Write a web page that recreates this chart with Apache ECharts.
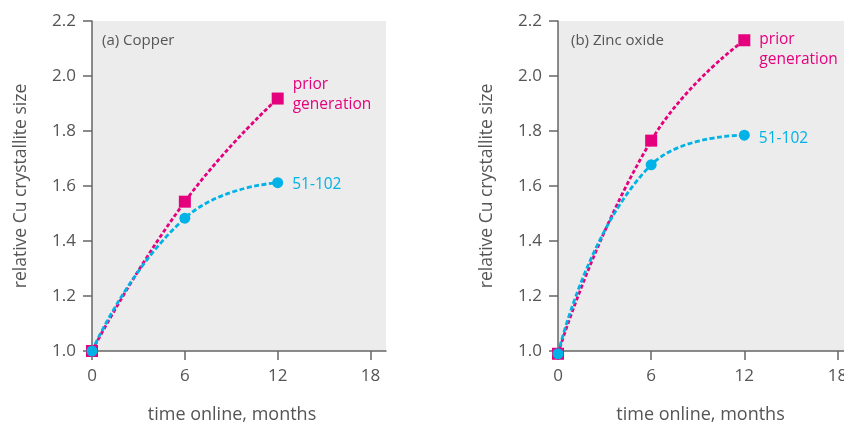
<!DOCTYPE html>
<html>
<head>
<meta charset="utf-8">
<script src="https://cdn.jsdelivr.net/npm/echarts@6/dist/echarts.min.js"></script>
<style>html,body{margin:0;padding:0;background:#fff}#c{width:844px;height:424px}</style>
</head>
<body>
<div id="c"></div>
<script>
// ---- data ----
var months = [0, 6, 12];
var copperPrior = [1.0, 1.543, 1.918];
var copper51102 = [1.0, 1.483, 1.612];
var zincPrior = [0.99, 1.765, 2.13];
var zinc51102 = [0.99, 1.677, 1.785];
var xTicks = [0, 6, 12, 18];
var yTicks = [1.0, 1.2, 1.4, 1.6, 1.8, 2.0, 2.2];
var panelTitles = ['(a) Copper', '(b) Zinc oxide'];
var seriesNames = ['prior\ngeneration', '51-102'];
var yName = 'relative Cu crystallite size';
var xName = 'time online, months';

var PINK = '#e5007d', CYAN = '#00b2e6', AX = '#666', TXT = '#555';
var FONT = 'Open Sans';

function pairs(xs, ys) { return xs.map(function (x, i) { return [x, ys[i]]; }); }

function mkX(idx, max) {
  return {
    type: 'value', gridIndex: idx, min: 0, max: max,
    axisLine: { lineStyle: { color: AX, width: 1.5 } },
    axisTick: { show: true, length: 9, customValues: xTicks, lineStyle: { color: AX, width: 1.5 } },
    axisLabel: { customValues: xTicks, color: TXT, fontSize: 17, fontFamily: FONT, margin: 17 },
    splitLine: { show: false },
    name: xName, nameLocation: 'middle', nameGap: 55,
    nameTextStyle: { color: TXT, fontSize: 18, fontFamily: FONT, padding: [0, idx === 0 ? 14 : 10, 0, 0] }
  };
}
function mkY(idx) {
  return {
    type: 'value', gridIndex: idx, min: 1.0, max: 2.2,
    axisLine: { show: true, lineStyle: { color: AX, width: 1.5 } },
    axisTick: { show: true, length: 9, customValues: yTicks, lineStyle: { color: AX, width: 1.5 } },
    axisLabel: { customValues: yTicks, color: TXT, fontSize: 17, fontFamily: FONT, margin: 16,
      formatter: function (v) { return v.toFixed(1); } },
    splitLine: { show: false },
    name: yName, nameLocation: 'middle', nameGap: 62,
    nameTextStyle: { color: TXT, fontSize: 17.5, fontFamily: FONT }
  };
}
function mkSeries(idx, ys, color, symbol, size, label, dy, dist, dash) {
  var data = pairs(months, ys).map(function (p, i) {
    var item = { value: p };
    if (i === ys.length - 1) {
      item.label = { show: true, position: 'right', distance: dist, formatter: label,
        color: color, fontSize: 15.5, fontFamily: FONT, lineHeight: 20, align: 'left', offset: [0, dy] };
    }
    return item;
  });
  return {
    type: 'line', xAxisIndex: idx, yAxisIndex: idx, smooth: true, clip: false,
    symbol: symbol, symbolSize: size, showAllSymbol: true,
    itemStyle: { color: color, opacity: 1 },
    lineStyle: { color: color, width: 2.8, type: dash },
    data: data, z: symbol === 'circle' ? 4 : 3, animation: false
  };
}

var chart = echarts.init(document.getElementById('c'), null, { renderer: 'canvas' });
chart.setOption({
  backgroundColor: '#fff',
  animation: false,
  title: [
    { text: panelTitles[0], left: 97, top: 28, textStyle: { color: TXT, fontSize: 15, fontWeight: 'normal', fontFamily: FONT } },
    { text: panelTitles[1], left: 566, top: 28, textStyle: { color: TXT, fontSize: 15, fontWeight: 'normal', fontFamily: FONT } }
  ],
  grid: [
    { left: 92, top: 21, width: 294, height: 330, show: true, backgroundColor: '#ececec', borderWidth: 0, outerBoundsMode: 'none', containLabel: false },
    { left: 558, top: 21, width: 295, height: 330, show: true, backgroundColor: '#ececec', borderWidth: 0, outerBoundsMode: 'none', containLabel: false }
  ],
  xAxis: [mkX(0, 19), mkX(1, 19)],
  yAxis: [mkY(0), mkY(1)],
  series: [
    mkSeries(0, copperPrior, PINK, 'rect', 12, seriesNames[0], -4, 9, [4, 2.3]),
    mkSeries(0, copper51102, CYAN, 'circle', 11, seriesNames[1], 2, 9, [5, 2.5]),
    mkSeries(1, zincPrior, PINK, 'rect', 12, seriesNames[0], 9, 9, [4, 2.3]),
    mkSeries(1, zinc51102, CYAN, 'circle', 11, seriesNames[1], 3, 9, [5, 2.5])
  ]
});
</script>
</body>
</html>
